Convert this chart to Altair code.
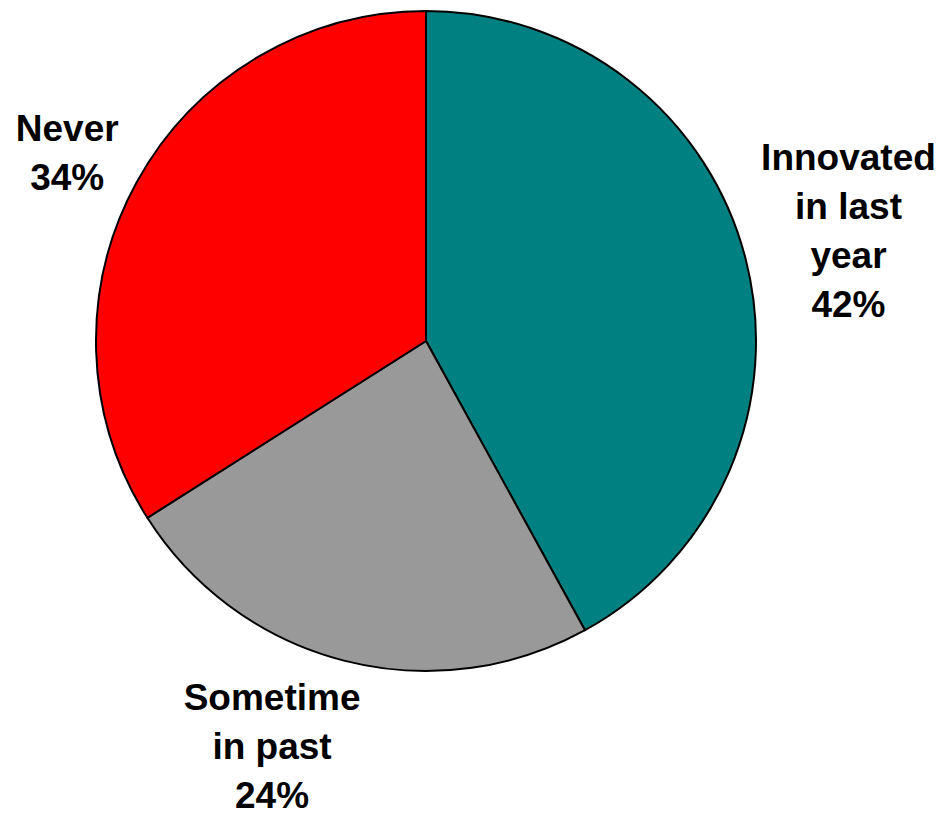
import altair as alt
import pandas as pd

categories = ["Innovated in last year", "Sometime in past", "Never"]
values = [42, 24, 34]
label_lines = [["Innovated", "in last", "year"], ["Sometime", "in past"], ["Never"]]
colors = ["#008080", "#999999", "#FF0000"]

df = pd.DataFrame({
    "category": categories,
    "value": values,
    "order": list(range(len(categories))),
    "label": ["\n".join(lines + [f"{v}%"]) for lines, v in zip(label_lines, values)],
})
total = sum(values)

CX, CY, R = 426, 341, 330
LABEL_R = 430
LINE_H = 49

base = alt.Chart(df)

pie = base.mark_arc(outerRadius=R, stroke="black", strokeWidth=2).encode(
    theta=alt.Theta("value:Q", stack=True),
    order=alt.Order("order:Q"),
    color=alt.Color("category:N", scale=alt.Scale(domain=categories, range=colors), legend=None),
    x=alt.value(CX),
    y=alt.value(CY),
)

offsets = {
    "Innovated in last year": (6, -2),
    "Sometime in past": (-47, -9),
    "Never": (18, 21),
}

layers = [pie]
for cat, lines in zip(categories, label_lines):
    dx, dy = offsets[cat]
    n = len(lines) + 1
    dy = dy - (n - 1) * LINE_H / 2
    t = base.transform_window(
        cum="sum(value)", sort=[alt.SortField("order")], frame=[None, 0]
    ).transform_calculate(
        mid="datum.cum - datum.value / 2"
    ).transform_filter(
        alt.datum.category == cat
    ).mark_text(
        font="Liberation Sans", fontWeight="bold", fontSize=37, lineHeight=LINE_H,
        lineBreak="\n", align="center", baseline="middle", color="black", dx=dx, dy=dy,
    ).encode(
        theta=alt.Theta("mid:Q", scale=alt.Scale(domain=[0, total])),
        radius=alt.value(LABEL_R),
        text=alt.Text("label:N"),
        x=alt.value(CX),
        y=alt.value(CY),
    )
    layers.append(t)

chart = alt.layer(*layers).resolve_scale(theta="independent").properties(
    width=942, height=813, autosize=alt.AutoSizeParams(type="none"), padding=0,
    background="white",
).configure_view(stroke=None)

chart.save("out.html", embed_options={"renderer": "svg", "actions": False})
